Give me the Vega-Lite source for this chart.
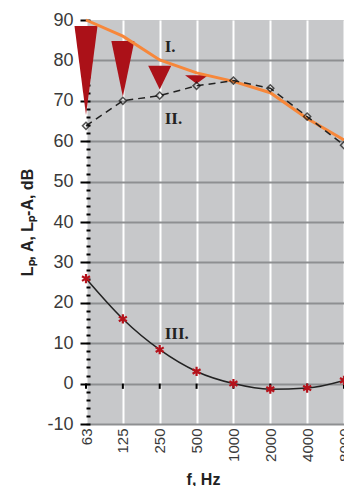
{
  "$schema": "https://vega.github.io/schema/vega-lite/v6.json",
  "autosize": {"type": "none"},
  "padding": {"left": 86, "top": 20, "right": 0, "bottom": 62},
  "width": 258,
  "height": 404,
  "background": "white",
  "config": {
    "view": {"fill": "#c7c8ca", "stroke": null},
    "axisY": {
      "titleFont": "Liberation Sans",
      "titleFontSize": 16,
      "titleFontWeight": "bold",
      "titleColor": "#222",
      "titlePadding": 11,
      "labelOverlap": false,
      "labelFont": "Liberation Sans",
      "labelFontSize": 18,
      "labelColor": "#3a3a3a",
      "labelPadding": 7,
      "domain": false,
      "tickColor": "black",
      "tickWidth": 2,
      "grid": true,
      "gridColor": "#8e8f91",
      "gridWidth": 2
    }
  },
  "datasets": {
    "main": [
      {"f": "63", "Lp": 90.0, "A": 63.8, "LpA": 26.0},
      {"f": "125", "Lp": 86.0, "A": 70.0, "LpA": 16.0},
      {"f": "250", "Lp": 80.1, "A": 71.3, "LpA": 8.4},
      {"f": "500", "Lp": 76.9, "A": 73.7, "LpA": 3.0},
      {"f": "1000", "Lp": 74.8, "A": 75.0, "LpA": 0.0},
      {"f": "2000", "Lp": 72.0, "A": 73.1, "LpA": -1.4},
      {"f": "4000", "Lp": 65.6, "A": 66.1, "LpA": -1.1},
      {"f": "8000", "Lp": 60.3, "A": 59.0, "LpA": 0.8}
    ],
    "tri": [
      {"f": "63", "side": "L", "top": 88.5, "bot": 88.5},
      {"f": "63", "side": "C", "top": 88.5, "bot": 66.5},
      {"f": "63", "side": "R", "top": 88.5, "bot": 88.5},
      {"f": "125", "side": "L", "top": 84.8, "bot": 84.8},
      {"f": "125", "side": "C", "top": 84.8, "bot": 71.0},
      {"f": "125", "side": "R", "top": 84.8, "bot": 84.8},
      {"f": "250", "side": "L", "top": 78.7, "bot": 78.7},
      {"f": "250", "side": "C", "top": 78.7, "bot": 72.8},
      {"f": "250", "side": "R", "top": 78.7, "bot": 78.7},
      {"f": "500", "side": "L", "top": 76.3, "bot": 76.3},
      {"f": "500", "side": "C", "top": 76.3, "bot": 74.2},
      {"f": "500", "side": "R", "top": 76.3, "bot": 76.3}
    ],
    "notes": [
      {"f": "250", "y": 83.3, "label": "I."},
      {"f": "250", "y": 65.6, "label": "II."},
      {"f": "250", "y": 12.4, "label": "III."}
    ]
  },
  "encoding": {
    "x": {
      "field": "f",
      "type": "ordinal",
      "scale": {"type": "point", "padding": 0, "domain": ["63", "125", "250", "500", "1000", "2000", "4000", "8000"]},
      "axis": {
        "title": "f, Hz",
        "titleFont": "Liberation Sans",
        "titleFontSize": 16,
        "titleFontWeight": "bold",
        "titleColor": "#222",
        "titleX": 117,
        "titleY": 55,
        "titleAlign": "center",
        "titleBaseline": "middle",
        "labelAngle": 270,
        "labelFont": "Liberation Sans",
        "labelFontSize": 15,
        "labelColor": "#3a3a3a",
        "labelPadding": 4,
        "ticks": false,
        "domain": false,
        "grid": true,
        "gridColor": "white",
        "gridWidth": 2,
        "gridOpacity": 1
      }
    }
  },
  "layer": [
    {
      "data": {"name": "tri"},
      "mark": {"type": "area", "color": "#ab1118", "opacity": 1, "clip": false},
      "encoding": {
        "xOffset": {"field": "side", "type": "nominal", "scale": {"type": "point", "domain": ["L", "C", "R"], "range": [-11.5, 11.5], "padding": 0}},
        "y": {"field": "top", "type": "quantitative", "stack": null,
          "scale": {"domain": [-10, 90], "nice": false, "zero": false},
          "axis": {"title": "Lₚ, A, Lₚ-A, dB", "offset": -4,
            "values": [-10, -8, -6, -4, -2, 0, 2, 4, 6, 8, 10, 12, 14, 16, 18, 20, 22, 24, 26, 28, 30, 32, 34, 36, 38, 40, 42, 44, 46, 48, 50, 52, 54, 56, 58, 60, 62, 64, 66, 68, 70, 72, 74, 76, 78, 80, 82, 84, 86, 88, 90],
            "labelExpr": "datum.value % 10 === 0 ? '' + datum.value : ''",
            "tickSize": {"condition": {"test": "datum.value % 10 === 0", "value": 10}, "value": 4},
            "gridOpacity": {"condition": {"test": "datum.value % 10 === 0 && datum.value < 90", "value": 1}, "value": 0}}},
        "y2": {"field": "bot"},
        "detail": {"field": "f"}
      }
    },
    {
      "data": {"name": "main"},
      "mark": {"type": "rule", "color": "black", "strokeWidth": 2},
      "encoding": {
        "y": {"datum": 0, "type": "quantitative",
          "axis": {"title": "Lₚ, A, Lₚ-A, dB", "offset": -4,
            "values": [-10, -8, -6, -4, -2, 0, 2, 4, 6, 8, 10, 12, 14, 16, 18, 20, 22, 24, 26, 28, 30, 32, 34, 36, 38, 40, 42, 44, 46, 48, 50, 52, 54, 56, 58, 60, 62, 64, 66, 68, 70, 72, 74, 76, 78, 80, 82, 84, 86, 88, 90],
            "labelExpr": "datum.value % 10 === 0 ? '' + datum.value : ''",
            "tickSize": {"condition": {"test": "datum.value % 10 === 0", "value": 10}, "value": 4},
            "gridOpacity": {"condition": {"test": "datum.value % 10 === 0 && datum.value < 90", "value": 1}, "value": 0}}},
        "y2": {"datum": -1.3}
      }
    },
    {
      "data": {"name": "main"},
      "mark": {"type": "line", "color": "#f7873a", "strokeWidth": 3},
      "encoding": {"y": {"field": "Lp", "type": "quantitative",
          "axis": {"title": "Lₚ, A, Lₚ-A, dB", "offset": -4,
            "values": [-10, -8, -6, -4, -2, 0, 2, 4, 6, 8, 10, 12, 14, 16, 18, 20, 22, 24, 26, 28, 30, 32, 34, 36, 38, 40, 42, 44, 46, 48, 50, 52, 54, 56, 58, 60, 62, 64, 66, 68, 70, 72, 74, 76, 78, 80, 82, 84, 86, 88, 90],
            "labelExpr": "datum.value % 10 === 0 ? '' + datum.value : ''",
            "tickSize": {"condition": {"test": "datum.value % 10 === 0", "value": 10}, "value": 4},
            "gridOpacity": {"condition": {"test": "datum.value % 10 === 0 && datum.value < 90", "value": 1}, "value": 0}}}}
    },
    {
      "data": {"name": "main"},
      "mark": {"type": "line", "color": "#222", "strokeWidth": 1.5, "strokeDash": [7, 5]},
      "encoding": {"y": {"field": "A", "type": "quantitative",
          "axis": {"title": "Lₚ, A, Lₚ-A, dB", "offset": -4,
            "values": [-10, -8, -6, -4, -2, 0, 2, 4, 6, 8, 10, 12, 14, 16, 18, 20, 22, 24, 26, 28, 30, 32, 34, 36, 38, 40, 42, 44, 46, 48, 50, 52, 54, 56, 58, 60, 62, 64, 66, 68, 70, 72, 74, 76, 78, 80, 82, 84, 86, 88, 90],
            "labelExpr": "datum.value % 10 === 0 ? '' + datum.value : ''",
            "tickSize": {"condition": {"test": "datum.value % 10 === 0", "value": 10}, "value": 4},
            "gridOpacity": {"condition": {"test": "datum.value % 10 === 0 && datum.value < 90", "value": 1}, "value": 0}}}}
    },
    {
      "data": {"name": "main"},
      "mark": {"type": "point", "shape": "diamond", "filled": false, "color": "#111", "strokeWidth": 1.5, "size": 50},
      "encoding": {"y": {"field": "A", "type": "quantitative",
          "axis": {"title": "Lₚ, A, Lₚ-A, dB", "offset": -4,
            "values": [-10, -8, -6, -4, -2, 0, 2, 4, 6, 8, 10, 12, 14, 16, 18, 20, 22, 24, 26, 28, 30, 32, 34, 36, 38, 40, 42, 44, 46, 48, 50, 52, 54, 56, 58, 60, 62, 64, 66, 68, 70, 72, 74, 76, 78, 80, 82, 84, 86, 88, 90],
            "labelExpr": "datum.value % 10 === 0 ? '' + datum.value : ''",
            "tickSize": {"condition": {"test": "datum.value % 10 === 0", "value": 10}, "value": 4},
            "gridOpacity": {"condition": {"test": "datum.value % 10 === 0 && datum.value < 90", "value": 1}, "value": 0}}}}
    },
    {
      "data": {"name": "main"},
      "mark": {"type": "line", "color": "#222", "strokeWidth": 1.5, "interpolate": "monotone"},
      "encoding": {"y": {"field": "LpA", "type": "quantitative",
          "axis": {"title": "Lₚ, A, Lₚ-A, dB", "offset": -4,
            "values": [-10, -8, -6, -4, -2, 0, 2, 4, 6, 8, 10, 12, 14, 16, 18, 20, 22, 24, 26, 28, 30, 32, 34, 36, 38, 40, 42, 44, 46, 48, 50, 52, 54, 56, 58, 60, 62, 64, 66, 68, 70, 72, 74, 76, 78, 80, 82, 84, 86, 88, 90],
            "labelExpr": "datum.value % 10 === 0 ? '' + datum.value : ''",
            "tickSize": {"condition": {"test": "datum.value % 10 === 0", "value": 10}, "value": 4},
            "gridOpacity": {"condition": {"test": "datum.value % 10 === 0 && datum.value < 90", "value": 1}, "value": 0}}}}
    },
    {
      "data": {"name": "main"},
      "mark": {"type": "point", "shape": "M0,-1L0,1M-0.87,-0.5L0.87,0.5M-0.87,0.5L0.87,-0.5", "filled": false, "color": "#b5121b", "strokeWidth": 2.2, "size": 85, "opacity": 1},
      "encoding": {"y": {"field": "LpA", "type": "quantitative",
          "axis": {"title": "Lₚ, A, Lₚ-A, dB", "offset": -4,
            "values": [-10, -8, -6, -4, -2, 0, 2, 4, 6, 8, 10, 12, 14, 16, 18, 20, 22, 24, 26, 28, 30, 32, 34, 36, 38, 40, 42, 44, 46, 48, 50, 52, 54, 56, 58, 60, 62, 64, 66, 68, 70, 72, 74, 76, 78, 80, 82, 84, 86, 88, 90],
            "labelExpr": "datum.value % 10 === 0 ? '' + datum.value : ''",
            "tickSize": {"condition": {"test": "datum.value % 10 === 0", "value": 10}, "value": 4},
            "gridOpacity": {"condition": {"test": "datum.value % 10 === 0 && datum.value < 90", "value": 1}, "value": 0}}}}
    },
    {
      "data": {"name": "notes"},
      "mark": {"type": "text", "font": "Liberation Serif", "fontWeight": "bold", "fontSize": 17, "color": "#222", "align": "left", "baseline": "middle", "dx": 5},
      "encoding": {
        "y": {"field": "y", "type": "quantitative",
          "axis": {"title": "Lₚ, A, Lₚ-A, dB", "offset": -4,
            "values": [-10, -8, -6, -4, -2, 0, 2, 4, 6, 8, 10, 12, 14, 16, 18, 20, 22, 24, 26, 28, 30, 32, 34, 36, 38, 40, 42, 44, 46, 48, 50, 52, 54, 56, 58, 60, 62, 64, 66, 68, 70, 72, 74, 76, 78, 80, 82, 84, 86, 88, 90],
            "labelExpr": "datum.value % 10 === 0 ? '' + datum.value : ''",
            "tickSize": {"condition": {"test": "datum.value % 10 === 0", "value": 10}, "value": 4},
            "gridOpacity": {"condition": {"test": "datum.value % 10 === 0 && datum.value < 90", "value": 1}, "value": 0}}},
        "text": {"field": "label"}
      }
    }
  ]
}
